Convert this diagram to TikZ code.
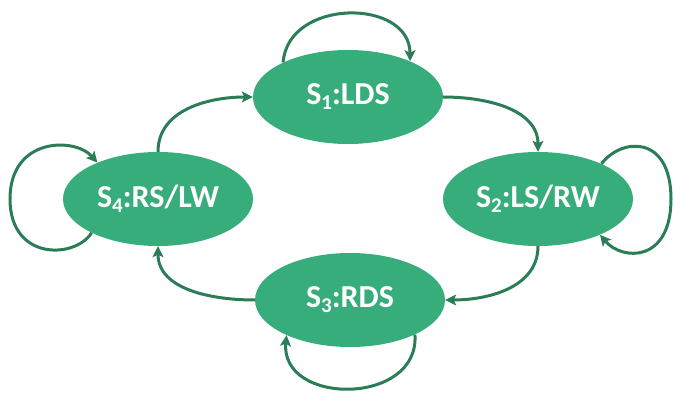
\documentclass[tikz,border=0pt]{standalone}
\usepackage{fontspec}
\setmainfont{Carlito}
\usetikzlibrary{arrows.meta,shapes.geometric}
\definecolor{stfill}{RGB}{55,173,124}
\definecolor{stline}{RGB}{42,125,86}
\newcommand{\stsub}[1]{\raisebox{-5pt}{\fontsize{21}{21}\selectfont #1}}
\tikzset{
  state/.style={ellipse, fill=stfill, draw=none, minimum width=190pt, minimum height=94pt, inner sep=0pt,
    text=white, font=\fontsize{32}{32}\selectfont\bfseries},
  conn/.style={draw=stline, line width=3pt, -{Stealth[length=11pt,width=11pt,inset=2.5pt]}}
}
\begin{document}
\begin{tikzpicture}[x=1pt,y=1pt]
\useasboundingbox (0,0) rectangle (673,397);
\node[state] (s1) at (348,300) {S\stsub{1}:LDS};
\node[state] (s2) at (538,198) {S\stsub{2}:LS/RW};
\node[state] (s3) at (350,97) {S\stsub{3}:RDS};
\node[state] (s4) at (158,198) {S\stsub{4}:RS/LW};
% transitions
\draw[conn] (s4.north) to[out=90,in=180] (s1.west);
\draw[conn] (s1.east) to[out=0,in=90] (s2.north);
\draw[conn] (s2.south) to[out=-90,in=0] (s3.east);
\draw[conn] (s3.west) to[out=180,in=-90] (s4.south);
% self loops
\draw[conn] (s1.152) .. controls (288,399) and (410,399) .. (s1.30);
\draw[conn] (s3.332) .. controls (420,-9) and (280,-9) .. (s3.209);
\draw[conn] (s4.207) .. controls (75,138) and (10,136) .. (10,198) .. controls (10,260) and (75,260) .. (s4.149);
\draw[conn] (s2.29) .. controls (622,260) and (671,262) .. (671,198) .. controls (671,134) and (622,136) .. (s2.330);
\end{tikzpicture}
\end{document}
